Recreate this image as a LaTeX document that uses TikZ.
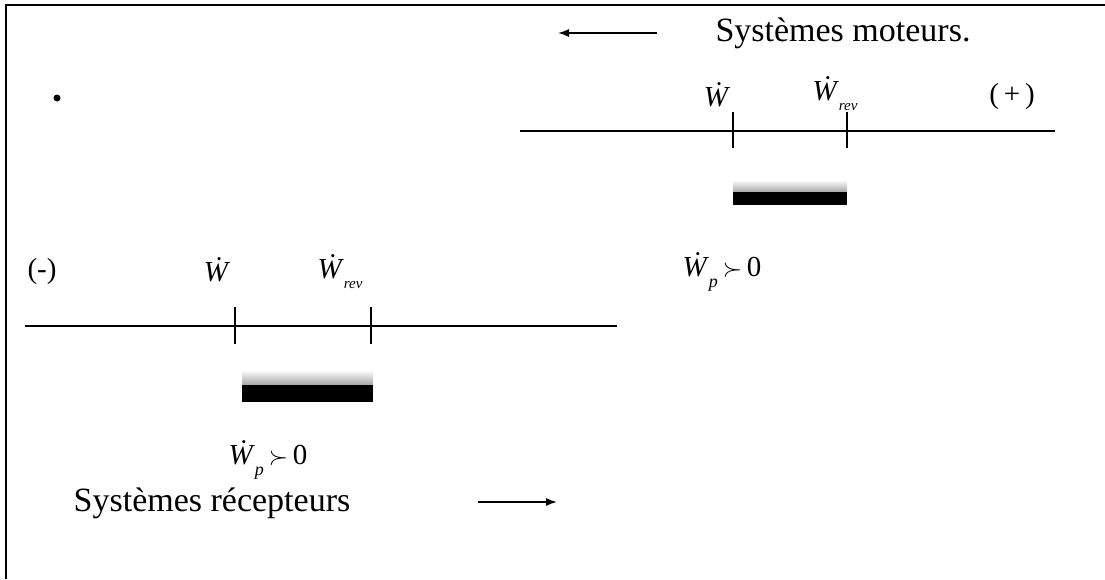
\documentclass[tikz,border=0pt]{standalone}
\usepackage{fontspec}
\setmainfont{Liberation Serif}
\usetikzlibrary{arrows.meta}
\tikzset{
  axis/.style={line width=1.6pt},
  tick/.style={line width=1.6pt},
  arr/.style={line width=1.4pt,-{Latex[length=11pt,width=8pt]}},
  big/.style={font=\fontsize{34}{40}\selectfont, inner sep=0pt},
  lab/.style={font=\fontsize{29}{34}\selectfont, inner sep=0pt},
  frame/.style={line width=1.4pt}
}
\newcommand{\Wd}{\textit{\.W}}
\newcommand{\Wrev}{\textit{\.W}\raisebox{-0.35em}{\fontsize{15}{17}\selectfont\itshape rev}}
\newcommand{\Wp}{\textit{\.W}\raisebox{-0.35em}{\fontsize{18}{20}\selectfont\itshape p}\,$\succ$\,0}
\begin{document}
\begin{tikzpicture}[x=1pt,y=-1pt]
\useasboundingbox (0,0) rectangle (1105,579);
% frame
\coordinate (fl) at (6,579);
\coordinate (tl) at (6,5);
\coordinate (tr) at (1105,5);
\draw[frame] (fl) -- (tl) -- (tr);
% dot
\fill (57,98) circle (3.5pt);

% ---- upper: moteurs
\node[big] (tm) at (843,33) {Systèmes moteurs.};
\coordinate (ta1) at (657,33);
\coordinate (ta2) at (558,33);
\draw[arr] (ta1) -- (ta2);

\coordinate (u1) at (520,131);
\coordinate (u2) at (1055,131);
\draw[axis] (u1) -- (u2);
\coordinate (uw) at (733,131);
\coordinate (ur) at (847,131);
\draw[tick] ([yshift=-17pt]uw) -- ([yshift=19pt]uw);
\draw[tick] ([yshift=-17pt]ur) -- ([yshift=19pt]ur);
\node[lab] (luw) at (717,95) {\Wd};
\node[lab] (lur) at (835,94) {\Wrev};
\node[lab] (lplus) at (1012,97) {(\,+\,)};
% hatched block
\shade[top color=white, bottom color=gray!70] (733,180) rectangle (847,192);
\fill[black] (733,192) rectangle (847,205);
\node[lab] (upw) at (722,272) {\Wp};

% ---- lower: recepteurs
\coordinate (l1) at (25,326);
\coordinate (l2) at (617,326);
\draw[axis] (l1) -- (l2);
\coordinate (lw) at (235,326);
\coordinate (lr) at (371,326);
\draw[tick] ([yshift=-18pt]lw) -- ([yshift=19pt]lw);
\draw[tick] ([yshift=-18pt]lr) -- ([yshift=19pt]lr);
\node[lab] (lminus) at (42,272) {(-)};
\node[lab] (llw) at (217,270) {\Wd};
\node[lab] (llr) at (340,272) {\Wrev};
\shade[top color=white, bottom color=gray!70] (242,370) rectangle (373,385);
\fill[black] (242,385) rectangle (373,402);
\node[lab] (lpw) at (268,460) {\Wp};

\node[big] (br) at (212,503) {Systèmes récepteurs};
\coordinate (ba1) at (478,502);
\coordinate (ba2) at (557,502);
\draw[arr] (ba1) -- (ba2);
\end{tikzpicture}
\end{document}
